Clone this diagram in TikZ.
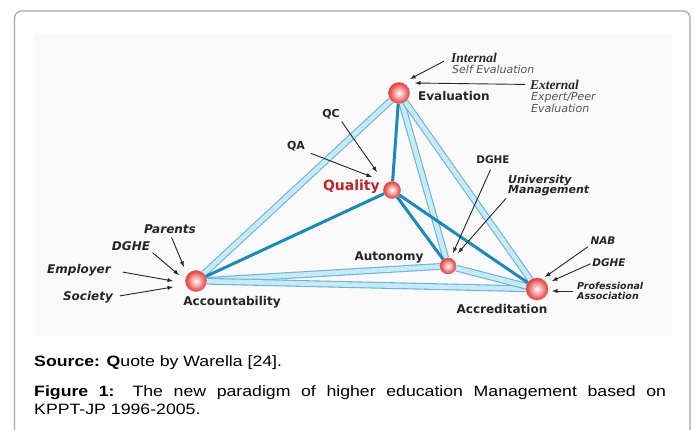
\documentclass[tikz,border=0pt]{standalone}
\usepackage{fontspec}
\setmainfont{DejaVu Sans}
\newfontfamily\capfont[FakeStretch=1.18]{Liberation Sans}
\newfontfamily\serifbi{Liberation Serif}
\usepackage{tikz}
\usetikzlibrary{arrows}
\definecolor{tubeedge}{RGB}{112,178,212}
\definecolor{tubefill}{RGB}{198,234,247}
\definecolor{linkblue}{RGB}{27,138,184}
\definecolor{ballred}{RGB}{228,58,58}
\definecolor{qualred}{RGB}{190,35,45}
\definecolor{subgrey}{RGB}{85,85,85}
\definecolor{framegrey}{RGB}{165,165,165}
\definecolor{panel}{RGB}{250,250,250}
\pgfdeclarelayer{back}
\pgfsetlayers{back,main}

\begin{document}
\begin{tikzpicture}[x=1pt, y=-1pt, >=latex, inner sep=0pt,
	ball/.style={circle, shading=radial, inner color=white, outer color=ballred, draw=ballred!80, line width=0.5pt},
	mainlab/.style={font=\fontsize{12}{12}\selectfont\bfseries, text=black!85},
	quallab/.style={font=\fontsize{14}{14}\selectfont\bfseries, text=qualred},
	tag/.style={font=\fontsize{11}{11}\selectfont\bfseries, text=black!85},
	ann/.style={font=\fontsize{11}{10.5}\selectfont\bfseries\itshape, text=black!85, align=left},
	smallann/.style={font=\fontsize{10.5}{10.5}\selectfont\bfseries\itshape, text=black!85, align=left},
	leftann/.style={font=\fontsize{12}{12}\selectfont\bfseries\itshape, text=black!85},
	serifann/.style={font=\serifbi\fontsize{13.5}{13.5}\selectfont\bfseries\itshape, text=black!85},
	sub/.style={font=\fontsize{11}{10.5}\selectfont\itshape, text=subgrey, align=left},
	tube/.style={draw=tubeedge, double=tubefill, double distance=4.6pt, line width=1.1pt},
	link/.style={draw=linkblue, line width=3pt},
	arr/.style={->, line width=0.9pt, draw=black!85},
	capt/.style={font=\capfont\fontsize{15}{17.5}\selectfont, anchor=base west}]
	\useasboundingbox (0,0) rectangle (697,430);

	\begin{pgfonlayer}{back}
		\draw[framegrey, line width=1.2pt, rounded corners=7pt] (14.5,11) rectangle (690,450);
		\fill[panel] (34,33) rectangle (672,336);
	\end{pgfonlayer}

	\node[ball, minimum size=21pt](eval) at (399,93) {};
	\node[ball, minimum size=17pt](qual) at (392,190) {};
	\node[ball, minimum size=21pt](acct) at (196,281) {};
	\node[ball, minimum size=16pt](auto) at (448,266) {};
	\node[ball, minimum size=22pt](accr) at (537,289) {};

	\node[mainlab, anchor=west](lEval) at (418,96.5) {Evaluation};
	\node[quallab, anchor=east](lQual) at (380,187) {Quality};
	\node[mainlab](lAcct) at (232,302) {Accountability};
	\node[mainlab](lAuto) at (389,257) {Autonomy};
	\node[mainlab](lAccr) at (502,309) {Accreditation};

	\begin{pgfonlayer}{back}
		\draw[tube](eval) -- (acct);
		\draw[tube](eval) -- (auto);
		\draw[tube](eval) -- (accr);
		\draw[tube](acct) -- (auto);
		\draw[tube](acct) -- (accr);
		\draw[tube](auto) -- (accr);

		\draw[link](eval) -- (qual);
		\draw[link](qual) -- (acct);
		\draw[link](qual) -- (auto);
		\draw[link](qual) -- (accr);
	\end{pgfonlayer}

	% evaluation
	\node[serifann, anchor=west](intl) at (451,57.5) {Internal};
	\node[sub, anchor=west](intlS) at (452,69.5) {Self Evaluation};
	\node[serifann, anchor=west](extl) at (530,84.5) {External};
	\node[sub, anchor=north west](extlS) at (531,92.5) {Expert/Peer\\Evaluation};
	\coordinate (tInt) at (410,79);
	\coordinate (tExt) at (415,83);
	\draw[arr, shorten <=8pt](intl.west) -- (tInt);
	\draw[arr, shorten <=5pt](extl.west) -- (tExt);

	% quality
	\node[tag](qc) at (331,114) {QC};
	\node[tag](qa) at (296,146) {QA};
	\coordinate (tQC) at (377,172);
	\coordinate (tQA) at (372,177);
	\draw[arr, shorten <=3pt](qc.south east) -- (tQC);
	\draw[arr, shorten <=6pt](qa.south east) -- (tQA);

	% autonomy
	\node[tag, font=\fontsize{10.5}{10.5}\selectfont\bfseries](dgT) at (493,160) {DGHE};
	\node[ann, anchor=north west](univ) at (508,174.5) {University\\Management};
	\coordinate (tDgT) at (453,253);
	\coordinate (tUniv) at (458,253);
	\draw[arr, shorten <=6pt](dgT.south) -- (tDgT);
	\draw[arr, shorten <=3pt](univ.south west) -- (tUniv);

	% accreditation
	\node[smallann](nab) at (603,241) {NAB};
	\node[smallann](dgR) at (609,263) {DGHE};
	\node[smallann, font=\fontsize{9.5}{10.5}\selectfont\bfseries\itshape, anchor=west](prof) at (577,291) {Professional\\Association};
	\coordinate (tNab) at (545,277);
	\coordinate (tDgR) at (552,281);
	\coordinate (tProf) at (552,291);
	\draw[arr, shorten <=3pt](nab.south west) -- (tNab);
	\draw[arr, shorten <=2pt](dgR.west) -- (tDgR);
	\draw[arr, shorten <=4pt](prof.west) -- (tProf);

	% accountability
	\node[leftann](par) at (170,229) {Parents};
	\node[leftann](dgL) at (131,246) {DGHE};
	\node[leftann](emp) at (79,270) {Employer};
	\node[leftann](soc) at (88,297) {Society};
	\coordinate (tPar) at (184,267);
	\coordinate (tDgL) at (179,275);
	\coordinate (tEmp) at (173,281);
	\coordinate (tSoc) at (173,287);
	\draw[arr, shorten <=4pt](par.south) -- (tPar);
	\draw[arr, shorten <=3pt](dgL.south east) -- (tDgL);
	\draw[arr, shorten <=12pt](emp.east) -- (tEmp);
	\draw[arr, shorten <=7pt](soc.east) -- (tSoc);

	% caption
	\node[capt](src) at (34,367) {\textbf{Source: Q}uote by Warella [24].};
	\node[capt](figA) at (34,397) {\makebox[632pt][s]{\textbf{Figure 1:} The new paradigm of higher education Management based on}};
	\node[capt](figB) at (34,414.5) {KPPT-JP 1996-2005.};
\end{tikzpicture}
\end{document}
